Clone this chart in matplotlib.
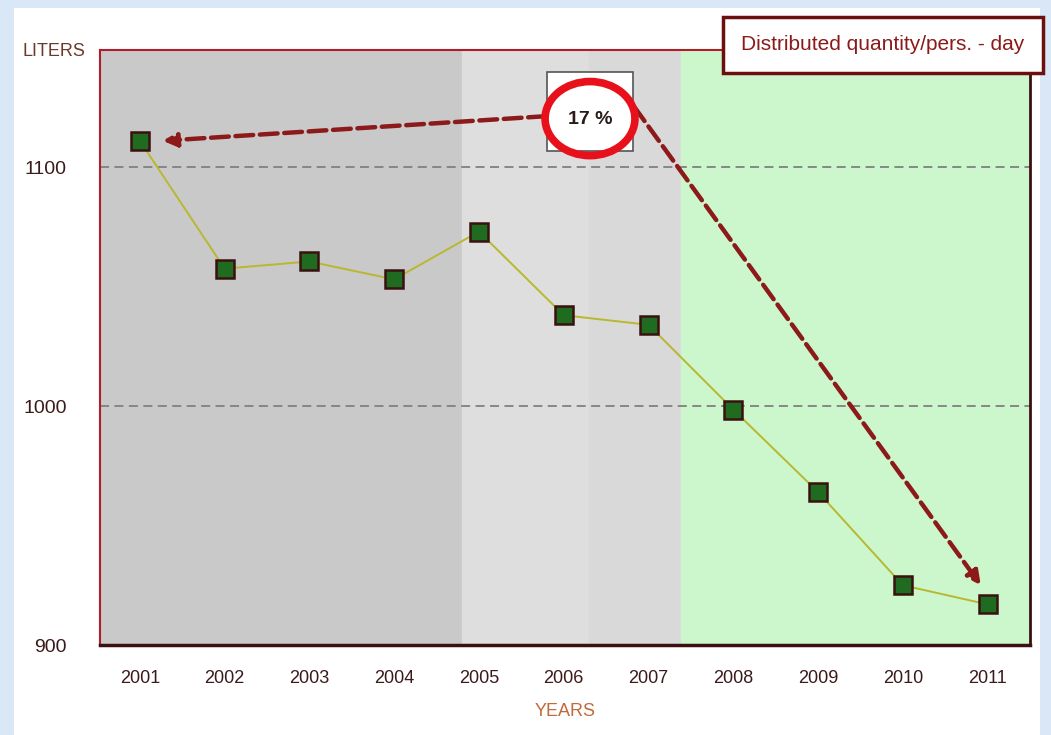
import matplotlib.pyplot as plt
from matplotlib.patches import Ellipse, Rectangle

years = [2001, 2002, 2003, 2004, 2005, 2006, 2007, 2008, 2009, 2010, 2011]
liters = [1111, 1057.5, 1060.5, 1053, 1073, 1038, 1034, 998.5, 964, 925, 917]
y_ticks = [900, 1000, 1100]
pct_label = "17 %"
legend_label = "Distributed quantity/pers. - day"

plt.rcParams['font.family'] = ['Liberation Sans Narrow', 'Liberation Sans', 'DejaVu Sans']

fig = plt.figure(figsize=(10.51, 7.35), dpi=100)
fig.patch.set_facecolor('#d9e7f6')
# white panel behind everything
fig.patches.append(Rectangle((14 / 1051, 0), 1026 / 1051, 727 / 735, transform=fig.transFigure,
                             facecolor='white', edgecolor='none', zorder=-10))

ax = fig.add_axes([100 / 1051, 90 / 735, 930 / 1051, 595 / 735])
ax.set_xlim(2000.53, 2011.5)
ax.set_ylim(900, 1149)

# shaded periods
ax.axvspan(2000.53, 2004.8, color='#c9c9c9', zorder=0)
ax.axvspan(2004.8, 2006.3, color='#dedede', zorder=0)
ax.axvspan(2006.3, 2007.38, color='#d9d9d9', zorder=0)
ax.axvspan(2007.38, 2011.5, color='#ccf7cc', zorder=0)

for t in y_ticks[1:]:
    ax.axhline(t, color='#808080', lw=1.3, ls=(0, (5, 3)), zorder=1)

ax.plot(years, liters, color='#b8b830', lw=1.4, zorder=2)
ax.plot(years, liters, ls='none', marker='s', ms=12.5, mfc='#1f6b1f', mec='#3a1010', mew=1.8, zorder=3)

# arrows from the percentage box to the first and last years
box_x, box_y = 2006.31, 1123.3
arrow_kw = dict(arrowstyle='-|>,head_length=0.8,head_width=0.4', color='#8c1a1a', lw=3.2,
                linestyle=(0, (4, 1.5)), shrinkA=0, shrinkB=0)
ax.annotate('', xy=(years[0] + 0.27, liters[0]), xytext=(box_x - 0.52, box_y - 2),
            arrowprops=arrow_kw, zorder=4)
ax.annotate('', xy=(years[-1] - 0.08, liters[-1] + 8), xytext=(box_x + 0.52, box_y + 2),
            arrowprops=arrow_kw, zorder=4)

ax.add_patch(Rectangle((box_x - 0.507, box_y - 16.7), 1.014, 33.4, fc='white', ec='#555555', lw=1.2, zorder=5))
ax.text(box_x, box_y - 3.5, pct_label, ha='center', va='center', fontsize=14, color='#2a1a1a',
        fontweight='bold', zorder=5.5)
ax.add_patch(Ellipse((box_x, box_y - 3), 1.06, 31, fill=False, ec='#e8101a', lw=5.5, zorder=6))

ax.set_xticks(years)
ax.set_xticklabels([str(y) for y in years], fontsize=13, color='#3a1a1a')
ax.set_yticks(y_ticks)
ax.set_yticklabels([str(t) for t in y_ticks], fontsize=14, color='#3a1a1a')
ax.tick_params(length=0, pad=18)
ax.tick_params(axis='y', pad=24)

for side in ['top', 'left']:
    ax.spines[side].set_color('#b01c2a')
    ax.spines[side].set_linewidth(1.5)
ax.spines['bottom'].set_color('#3a1010')
ax.spines['bottom'].set_linewidth(2.5)
ax.spines['right'].set_color('#3a1010')
ax.spines['right'].set_linewidth(2)

fig.text(22 / 1051, 1 - 52 / 735, 'LITERS', fontsize=13, color='#6b3a2a', va='center', ha='left')
fig.text(565 / 1051, 1 - 712 / 735, 'YEARS', fontsize=13, color='#c06a3a', va='center', ha='center')

fig.text(883 / 1051, 1 - 45 / 735, legend_label, fontsize=15, color='#8c1a1a', va='center', ha='center',
         bbox=dict(boxstyle='square,pad=0.9', fc='white', ec='#6b0f0f', lw=2.5))

fig.savefig('out.png', dpi=100, facecolor=fig.get_facecolor())
